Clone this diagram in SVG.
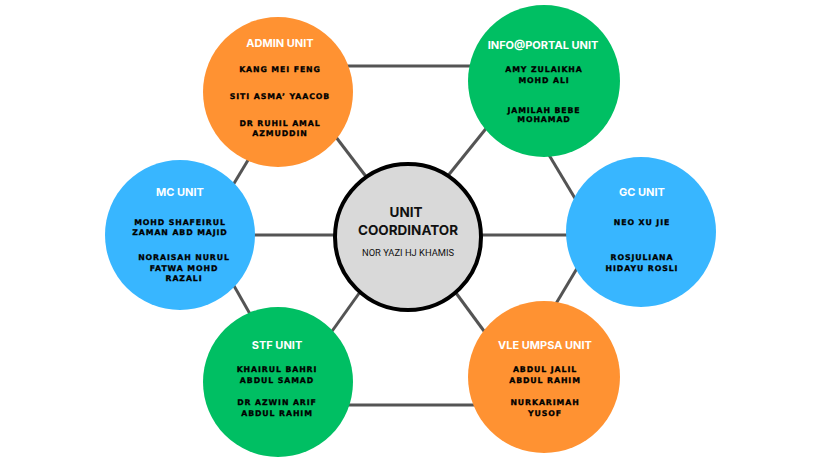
<svg xmlns="http://www.w3.org/2000/svg" width="824" height="468" viewBox="0 0 824 468">
<style>
.bg{fill:#ffffff}
.edge{stroke:#545454;stroke-width:3;fill:none;stroke-linecap:butt}
.orange{fill:#FF9232}
.green{fill:#00BF63}
.blue{fill:#38B6FF}
.hub{fill:#D9D9D9;stroke:#000000;stroke-width:4}
.title{font-family:"Inter","Liberation Sans",sans-serif;font-weight:700;font-size:11px;fill:#ffffff;text-anchor:middle}
.name{font-family:"DejaVu Sans","Liberation Sans",sans-serif;font-weight:700;font-size:7.8px;letter-spacing:0.9px;fill:#000000;stroke:#000000;stroke-width:0.3px;text-anchor:middle}
.hubtitle{font-family:"Inter","Liberation Sans",sans-serif;font-weight:700;font-size:13.5px;fill:#111111;text-anchor:middle}
.hubname{font-family:"Roboto","Liberation Sans",sans-serif;font-size:9.5px;fill:#111111;text-anchor:middle}
</style>
<rect class="bg" x="0" y="0" width="824" height="468"/>
<g id="connectors">
<line class="edge" x1="340" y1="66" x2="480" y2="66"/>
<line class="edge" x1="340" y1="405" x2="480" y2="405"/>
<line class="edge" x1="240" y1="235" x2="350" y2="235"/>
<line class="edge" x1="466" y1="235" x2="590" y2="235"/>
<line class="edge" x1="310" y1="103" x2="390" y2="208"/>
<line class="edge" x1="505" y1="105" x2="430" y2="198"/>
<line class="edge" x1="370" y1="278" x2="320" y2="348"/>
<line class="edge" x1="445" y1="278" x2="495" y2="346"/>
<line class="edge" x1="262" y1="137" x2="224" y2="200"/>
<line class="edge" x1="225" y1="270" x2="258" y2="328"/>
<line class="edge" x1="540" y1="140" x2="585" y2="215"/>
<line class="edge" x1="585" y1="255" x2="545" y2="322"/>
</g>
<g id="admin">
<circle class="orange" cx="278" cy="92" r="75"/>
<text class="title" x="280" y="47">ADMIN UNIT</text>
<text class="name" x="280" y="72">KANG MEI FENG</text>
<text class="name" x="280" y="99">SITI ASMA’ YAACOB</text>
<text class="name" x="280" y="126">DR RUHIL AMAL</text>
<text class="name" x="280" y="136">AZMUDDIN</text>
</g>
<g id="info">
<circle class="green" cx="544" cy="81" r="76"/>
<text class="title" x="543" y="49">INFO@PORTAL UNIT</text>
<text class="name" x="544" y="72">AMY ZULAIKHA</text>
<text class="name" x="544" y="83">MOHD ALI</text>
<text class="name" x="544" y="113">JAMILAH BEBE</text>
<text class="name" x="544" y="122">MOHAMAD</text>
</g>
<g id="mc">
<circle class="blue" cx="180" cy="235" r="75"/>
<text class="title" x="180" y="196">MC UNIT</text>
<text class="name" x="180" y="225">MOHD SHAFEIRUL</text>
<text class="name" x="180" y="235">ZAMAN ABD MAJID</text>
<text class="name" x="184" y="260">NORAISAH NURUL</text>
<text class="name" x="184" y="271">FATWA MOHD</text>
<text class="name" x="184" y="281">RAZALI</text>
</g>
<g id="gc">
<circle class="blue" cx="641" cy="232" r="75"/>
<text class="title" x="642" y="196">GC UNIT</text>
<text class="name" x="642" y="225">NEO XU JIE</text>
<text class="name" x="642" y="260">ROSJULIANA</text>
<text class="name" x="642" y="271">HIDAYU ROSLI</text>
</g>
<g id="stf">
<circle class="green" cx="278" cy="382" r="75"/>
<text class="title" x="277" y="349">STF UNIT</text>
<text class="name" x="277" y="372">KHAIRUL BAHRI</text>
<text class="name" x="277" y="383">ABDUL SAMAD</text>
<text class="name" x="277" y="405">DR AZWIN ARIF</text>
<text class="name" x="277" y="416">ABDUL RAHIM</text>
</g>
<g id="vle">
<circle class="orange" cx="544" cy="377" r="76"/>
<text class="title" x="545" y="349">VLE UMPSA UNIT</text>
<text class="name" x="545" y="372">ABDUL JALIL</text>
<text class="name" x="545" y="383">ABDUL RAHIM</text>
<text class="name" x="545" y="405">NURKARIMAH</text>
<text class="name" x="545" y="416">YUSOF</text>
</g>
<g id="coordinator">
<circle class="hub" cx="408" cy="237" r="73"/>
<text class="hubtitle" x="406" y="217">UNIT</text>
<text class="hubtitle" x="408" y="235">COORDINATOR</text>
<text class="hubname" x="408" y="256" textLength="92" lengthAdjust="spacingAndGlyphs">NOR YAZI HJ KHAMIS</text>
</g>
</svg>
